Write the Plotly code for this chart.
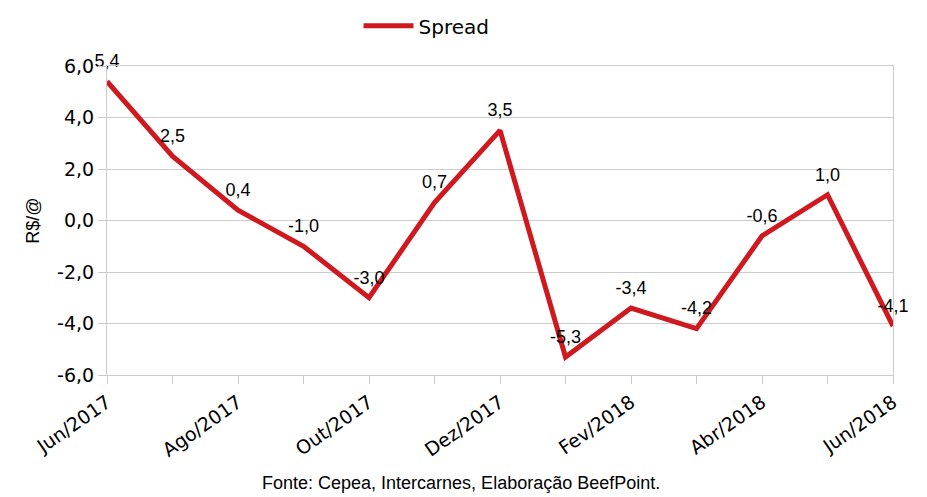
import plotly.graph_objects as go

months = ["Jun/2017", "Jul/2017", "Ago/2017", "Set/2017", "Out/2017", "Nov/2017",
          "Dez/2017", "Jan/2018", "Fev/2018", "Mar/2018", "Abr/2018", "Mai/2018", "Jun/2018"]
spread = [5.4, 2.5, 0.4, -1.0, -3.0, 0.7, 3.5, -5.3, -3.4, -4.2, -0.6, 1.0, -4.1]
tick_labels = ["Jun/2017", "", "Ago/2017", "", "Out/2017", "", "Dez/2017", "",
               "Fev/2018", "", "Abr/2018", "", "Jun/2018"]
y_ticks = [-6, -4, -2, 0, 2, 4, 6]
y_tick_labels = ["-6,0", "-4,0", "-2,0", "0,0", "2,0", "4,0", "6,0"]

labels = [f"{v:.1f}".replace(".", ",") for v in spread]

RED = "#d0181f"
GRID = "#cccccc"

fig = go.Figure()
fig.add_trace(go.Scatter(
    x=months, y=spread, mode="lines+markers+text", name="Spread",
    line=dict(color=RED, width=5),
    marker=dict(size=14, color="rgba(0,0,0,0)"),
    text=labels, textposition="top center",
    textfont=dict(family="Liberation Sans, Arial", size=18, color="black"),
    cliponaxis=False,
))

fig.update_layout(
    width=919, height=489,
    margin=dict(l=99, r=34, t=58, b=122, autoexpand=False),
    paper_bgcolor="white", plot_bgcolor="white",
    separators=",.",
    showlegend=True,
    legend=dict(orientation="h", x=0.32, xanchor="left", y=1.13, yanchor="middle",
                itemwidth=50,
                font=dict(family="DejaVu Sans, Verdana", size=20, color="black")),
    annotations=[dict(text="Fonte: Cepea, Intercarnes, Elaboração BeefPoint.",
                      xref="paper", yref="paper", x=0.45, y=-0.35,
                      xanchor="center", yanchor="middle", showarrow=False,
                      font=dict(family="Liberation Sans, Arial", size=18, color="black"))],
)

fig.update_xaxes(
    type="category", categoryorder="array", categoryarray=months,
    range=[0, len(months) - 1], automargin=False,
    tickmode="array", tickvals=months, ticktext=tick_labels,
    tickangle=-35, ticks="outside", ticklen=8, tickcolor=GRID,
    showgrid=False, showline=True, linecolor=GRID, linewidth=1, mirror=True,
    tickfont=dict(family="DejaVu Sans, Verdana", size=19, color="black"),
    zeroline=False,
)
fig.update_yaxes(
    range=[-6, 6], tickmode="array", tickvals=y_ticks, ticktext=y_tick_labels,
    automargin=False,
    ticks="outside", ticklen=8, tickcolor=GRID,
    showgrid=True, gridcolor=GRID, gridwidth=1,
    showline=True, linecolor=GRID, linewidth=1, mirror=True,
    zeroline=False,
    tickfont=dict(family="DejaVu Sans, Verdana", size=19, color="black"),
    title=dict(text="R$/@", font=dict(family="Liberation Sans, Arial", size=18, color="black"),
               standoff=12),
)

fig.write_html("out.html")
